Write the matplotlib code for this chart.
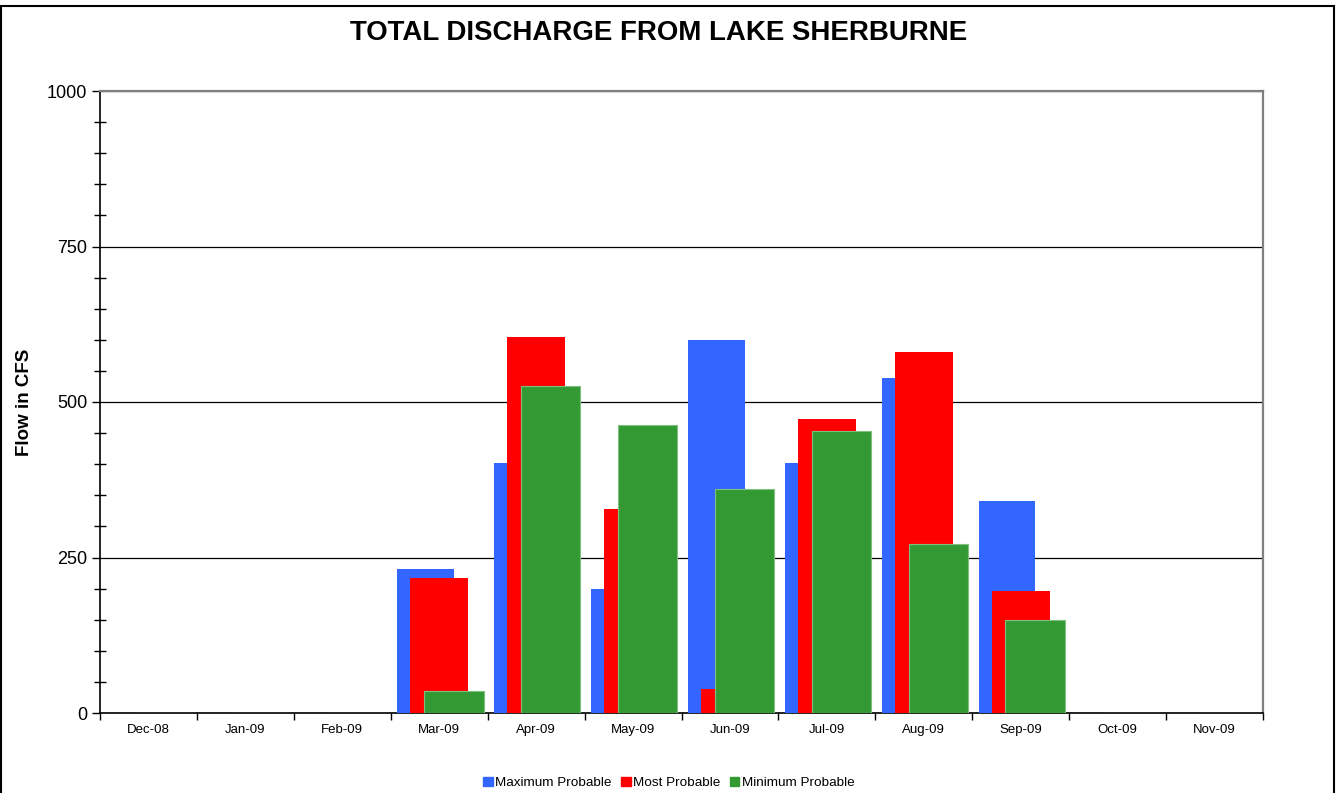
import matplotlib
matplotlib.use("Agg")
import matplotlib.pyplot as plt
import numpy as np
from matplotlib.patches import Rectangle
from matplotlib.ticker import MultipleLocator

plt.rcParams['font.family'] = ['Liberation Sans', 'DejaVu Sans']

months = ["Dec-08", "Jan-09", "Feb-09", "Mar-09", "Apr-09", "May-09",
          "Jun-09", "Jul-09", "Aug-09", "Sep-09", "Oct-09", "Nov-09"]
maximum_probable = [0, 0, 0, 232, 402, 199, 600, 402, 539, 341, 0, 0]
most_probable = [0, 0, 0, 217, 605, 328, 39, 473, 580, 196, 0, 0]
minimum_probable = [0, 0, 0, 35, 526, 463, 360, 453, 272, 150, 0, 0]

W, H = 1338, 793
fig = plt.figure(figsize=(W / 100, H / 100), dpi=100)
fig.patch.set_facecolor('white')

# outer chart frame
fig.patches.append(Rectangle((1 / W, -0.05), 1333 / W, (H - 6) / H + 0.05,
                             transform=fig.transFigure, fill=False,
                             edgecolor='black', linewidth=1.5))

ax = fig.add_axes([100 / W, 80 / H, 1163 / W, 622 / H])
x = np.arange(len(months))

ax.bar(x - 0.142, maximum_probable, width=0.585, color='#3366FF', zorder=3)
ax.bar(x + 0.0, most_probable, width=0.595, color='#FF0000', zorder=4)
ax.bar(x + 0.15, minimum_probable, width=0.615, color='#339933',
       edgecolor='#7fbf7f', linewidth=0.8, zorder=5)

ax.set_xlim(-0.5, len(months) - 0.5)
ax.set_ylim(0, 1000)

ax.set_xticks(np.arange(-0.5, len(months), 1.0))
ax.set_xticklabels([])
ax.set_xticks(x, minor=True)
ax.set_xticklabels(months, minor=True, fontsize=9.5)
ax.tick_params(axis='x', which='major', direction='out', length=5, width=1)
ax.tick_params(axis='x', which='minor', length=0, pad=8)

ax.set_yticks([0, 250, 500, 750, 1000])
ax.yaxis.set_minor_locator(MultipleLocator(50))
ax.tick_params(axis='y', which='major', direction='out', length=6, width=1,
               labelsize=13, pad=3)
ax.tick_params(axis='y', which='minor', direction='inout', length=8, width=1)

ax.grid(axis='y', which='major', color='black', linewidth=0.9, zorder=1)
ax.set_axisbelow(True)

for s in ['top', 'right']:
    ax.spines[s].set_color('#808080')
    ax.spines[s].set_linewidth(1.6)
for s in ['left', 'bottom']:
    ax.spines[s].set_color('black')
    ax.spines[s].set_linewidth(1.2)

ax.set_ylabel('Flow in CFS', fontsize=13.5, fontweight='bold')
ax.yaxis.set_label_coords((33 - 100) / 1163, 0.5)
fig.text(659 / W, 1 - 33 / H, 'TOTAL DISCHARGE FROM LAKE SHERBURNE',
         fontsize=19.9, fontweight='bold', ha='center', va='center')

handles = [Rectangle((0, 0), 1, 1, color='#3366FF'),
           Rectangle((0, 0), 1, 1, color='#FF0000'),
           Rectangle((0, 0), 1, 1, color='#339933')]
fig.legend(handles, ['Maximum Probable', 'Most Probable', 'Minimum Probable'],
           loc='center', bbox_to_anchor=(669 / W, 1 - 783 / H), ncol=3,
           frameon=False, fontsize=9.7, handlelength=0.7, handleheight=0.7,
           handletextpad=0.2, columnspacing=0.7, borderaxespad=0)

fig.savefig('out.png', dpi=100, facecolor='white')
